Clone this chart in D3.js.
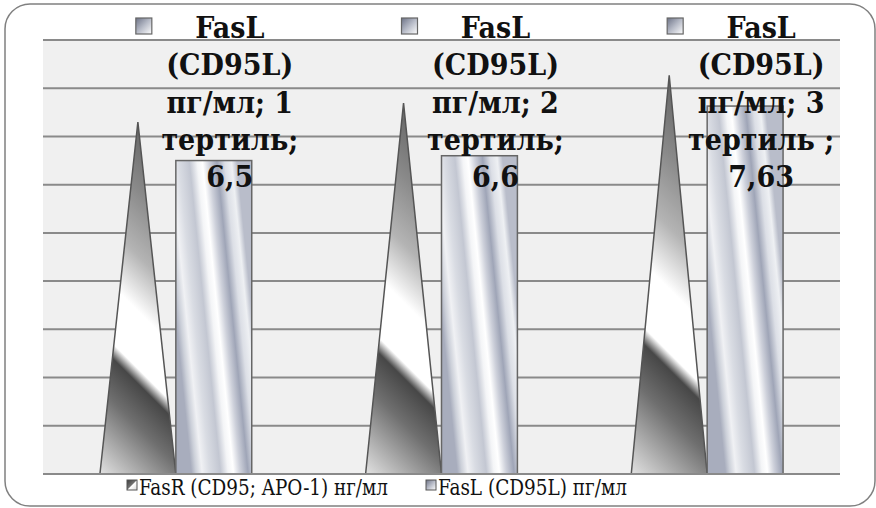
<!DOCTYPE html>
<html>
<head>
<meta charset="utf-8">
<script src="https://cdn.jsdelivr.net/npm/d3@7"></script>
<style>
  body { margin: 0; background: #fff; }
  svg { display: block; }
</style>
</head>
<body>
<div id="chart"></div>
<script>
// Data
const categories = ['1 тертиль', '2 тертиль', '3 тертиль'];
const seriesKeys = ['fasR', 'fasL'];
const seriesNames = ['FasR (CD95; APO-1) нг/мл', 'FasL (CD95L) пг/мл'];
const fasR = [7.3, 7.69, 8.27];
const fasL = [6.5, 6.6, 7.63];
const fasLLabels = [
  ['FasL', '(CD95L)', 'пг/мл; 1', 'тертиль;', '6,5'],
  ['FasL', '(CD95L)', 'пг/мл; 2', 'тертиль;', '6,6'],
  ['FasL', '(CD95L)', 'пг/мл; 3', 'тертиль ;', '7,63']
];
const yTicks = [0, 1, 2, 3, 4, 5, 6, 7, 8, 9];

const width = 876, height = 508;
const plot = { left: 43, right: 840, top: 40, bottom: 474 };

const svg = d3.select('#chart').append('svg')
  .attr('width', width)
  .attr('height', height);

const defs = svg.append('defs');

// chrome-like gradient for the triangles (FasR)
const chromeStops = [
  [0.00, '#5c5c5c'], [0.09, '#666666'], [0.25, '#8a8a8a'], [0.40, '#b4b4b4'],
  [0.50, '#ededed'], [0.53, '#ffffff'], [0.665, '#ffffff'], [0.70, '#474747'],
  [0.80, '#6f6f6f'], [1.00, '#e2e2e2']
];
// silver-blue gradient for the bars (FasL)
const silverStops = [
  [0.00, '#a8adbd'], [0.06, '#ccd0d9'], [0.14, '#f0f1f4'], [0.24, '#d9dce3'],
  [0.38, '#c3c7d2'], [0.48, '#f4f5f7'], [0.55, '#ffffff'], [0.64, '#cdd0da'],
  [0.74, '#9fa5b7'], [0.84, '#dcdfe6'], [0.93, '#eef0f3'], [1.00, '#b9bdca']
];

function addGradient(id, stops, attrs) {
  const g = defs.append('linearGradient').attr('id', id);
  Object.entries(attrs).forEach(([k, v]) => g.attr(k, v));
  g.selectAll('stop').data(stops).enter().append('stop')
    .attr('offset', d => d[0])
    .attr('stop-color', d => d[1]);
  return g;
}

// frame
svg.append('rect')
  .attr('x', 5).attr('y', 4)
  .attr('width', 870).attr('height', 502)
  .attr('rx', 25).attr('ry', 25)
  .attr('fill', '#fff')
  .attr('stroke', '#808080')
  .attr('stroke-width', 1.5);

const x0 = d3.scaleBand()
  .domain(categories)
  .range([plot.left, plot.right]);

const x1 = d3.scaleBand()
  .domain(seriesKeys)
  .range([0, x0.bandwidth()])
  .paddingInner(0)
  .paddingOuter(0.75);

const y = d3.scaleLinear()
  .domain([0, 9])
  .range([plot.bottom, plot.top]);

// plot area
svg.append('rect')
  .attr('x', plot.left).attr('y', plot.top)
  .attr('width', plot.right - plot.left)
  .attr('height', plot.bottom - plot.top)
  .attr('fill', '#f0f0f0');

svg.append('g')
  .attr('class', 'grid')
  .selectAll('line')
  .data(yTicks)
  .enter()
  .append('line')
  .attr('x1', plot.left).attr('x2', plot.right)
  .attr('y1', d => y(d)).attr('y2', d => y(d))
  .attr('stroke', '#8a8a8a')
  .attr('stroke-width', 2);

const groups = svg.selectAll('.group')
  .data(categories)
  .enter()
  .append('g')
  .attr('class', 'group')
  .attr('transform', d => 'translate(' + x0(d) + ',0)');

// gradients are in the group's own coordinates (userSpaceOnUse follows the transform)
groups.each(function(c, i) {
  const g = d3.select(this);
  const xl = x1('fasR'), w = x1.bandwidth(), xr = xl + w;
  const top = y(fasR[i]), base = y(0), h = base - top;
  addGradient('tri' + i, chromeStops, {
    gradientUnits: 'userSpaceOnUse',
    x1: xr, y1: top,
    x2: xr - (w + h) / 2, y2: top + (w + h) / 2
  });
  // triangles (FasR)
  g.append('path')
    .attr('d', 'M' + xl + ',' + base + 'L' + (xl + w / 2) + ',' + top + 'L' + xr + ',' + base + 'Z')
    .attr('fill', 'url(#tri' + i + ')')
    .attr('stroke', '#555')
    .attr('stroke-width', 1.5);

  // bars (FasL)
  const bl = x1('fasL'), bw = x1.bandwidth();
  const btop = y(fasL[i]);
  const mid = (btop + base) / 2;
  addGradient('bar' + i, silverStops, {
    gradientUnits: 'userSpaceOnUse',
    x1: bl, y1: mid,
    x2: bl + bw, y2: mid - 0.1 * bw
  });
  g.append('rect')
    .attr('x', bl).attr('y', btop)
    .attr('width', bw).attr('height', base - btop)
    .attr('fill', 'url(#bar' + i + ')')
    .attr('stroke', '#666')
    .attr('stroke-width', 1.5);
});

// baseline
svg.append('line')
  .attr('x1', plot.left).attr('x2', plot.right)
  .attr('y1', y(0)).attr('y2', y(0))
  .attr('stroke', '#8a8a8a')
  .attr('stroke-width', 2);

// key gradients
addGradient('keyR', [[0, '#3c3c3c'], [0.45, '#707070'], [0.55, '#ffffff'], [1, '#d8d8d8']],
  { x1: 0, y1: 0, x2: 1, y2: 1 });
addGradient('keyL', [[0, '#6c7286'], [0.5, '#b8bcc8'], [1, '#ffffff']],
  { x1: 0, y1: 0, x2: 1, y2: 1 });

// data labels for FasL
const labelSize = 30, lineGap = 37.3, firstBase = 38, squeeze = 0.9;
groups.each(function(c, i) {
  const g = d3.select(this);
  const bl = x1('fasL'), bw = x1.bandwidth();
  const cx = bl + bw / 2 + 16;

  g.append('rect')
    .attr('x', bl - 40).attr('y', 18)
    .attr('width', 16).attr('height', 16)
    .attr('fill', 'url(#keyL)')
    .attr('stroke', '#666')
    .attr('stroke-width', 1.2);

  g.selectAll('.dl')
    .data(fasLLabels[i])
    .enter()
    .append('text')
    .attr('class', 'dl')
    .attr('transform', (d, k) => 'translate(' + cx + ',' + (firstBase + k * lineGap) + ') scale(' + squeeze + ',1)')
    .attr('text-anchor', 'middle')
    .attr('font-family', '"DejaVu Serif", serif')
    .attr('font-weight', 'bold')
    .attr('font-size', labelSize)
    .attr('fill', '#111')
    .text(d => d);
});

// legend
const legendItems = [
  { name: seriesNames[0], key: 'keyR', x: 127, w: 249 },
  { name: seriesNames[1], key: 'keyL', x: 426, w: 189 }
];
const legend = svg.append('g').attr('class', 'legend');
legendItems.forEach(item => {
  legend.append('rect')
    .attr('x', item.x).attr('y', 480)
    .attr('width', 10).attr('height', 10)
    .attr('fill', 'url(#' + item.key + ')')
    .attr('stroke', '#555')
    .attr('stroke-width', 1);
  legend.append('text')
    .attr('x', item.x + 12)
    .attr('y', 495)
    .attr('textLength', item.w)
    .attr('lengthAdjust', 'spacingAndGlyphs')
    .attr('font-family', '"DejaVu Serif Condensed", "DejaVu Serif", serif')
    .attr('font-size', 23)
    .attr('fill', '#111')
    .text(item.name);
});
</script>
</body>
</html>
